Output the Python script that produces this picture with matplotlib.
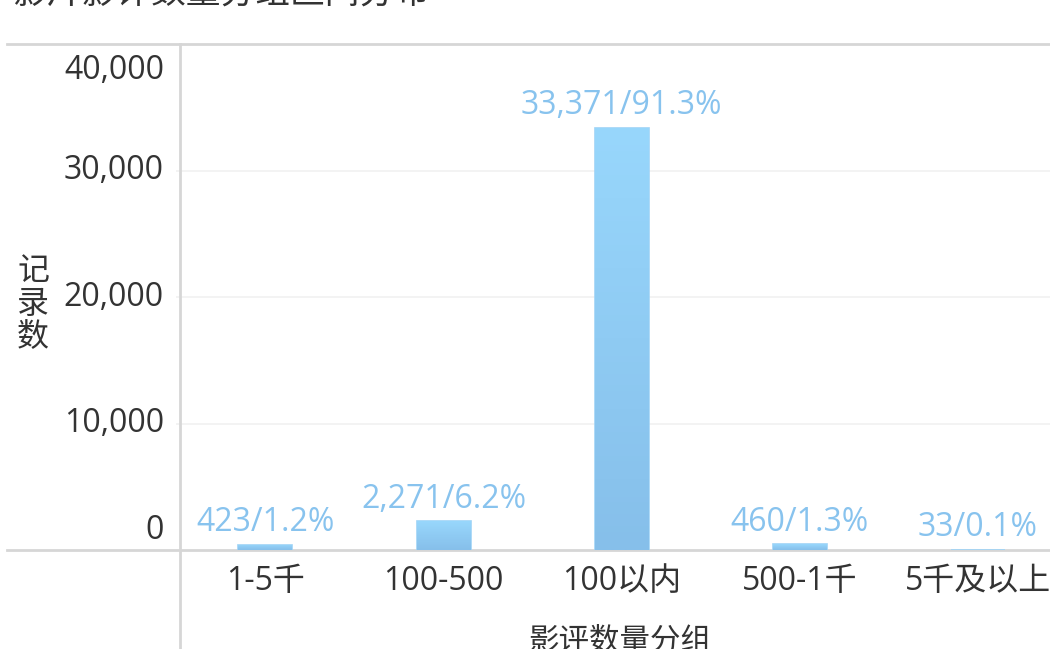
import numpy as np
import matplotlib
matplotlib.use('Agg')
import matplotlib.pyplot as plt
from matplotlib.lines import Line2D
from matplotlib.transforms import blended_transform_factory

plt.rcParams['font.family'] = ['Open Sans', 'Noto Sans CJK SC', 'DejaVu Sans']

groups = ['1-5千', '100-500', '100以内', '500-1千', '5千及以上']
counts = [423, 2271, 33371, 460, 33]
yticks = [0, 10000, 20000, 30000, 40000]

title = '影片影评数量分组区间分布'
xlabel = '影评数量分组'
ylabel = '记\n录\n数'

W, H = 1050, 649
fig = plt.figure(figsize=(W / 100, H / 100), dpi=100)
# plot area in pixels: left 176, right 1067 (runs off the canvas), zero line 550, top 44
ax = fig.add_axes([176.4 / W, (H - 550) / H, 890.6 / W, 506 / H])
ax.set_xlim(-0.5, len(groups) - 0.5)
ax.set_ylim(0, 40000)
for s in ax.spines.values():
    s.set_visible(False)
ax.tick_params(length=0, labelleft=False, labelbottom=False)

total = sum(counts)
pcts = [c / total * 100 for c in counts]

# light grid
for v in yticks[1:-1]:
    ax.axhline(v, color='#f1f1f1', lw=1.2, zorder=0)

# border lines at 0 and 40,000 run out to the left edge
gline = '#d6d6d6'
for v in (0, 40000):
    ax.plot([-0.19, 1.0], [v, v], color=gline, lw=2,
            transform=blended_transform_factory(ax.transAxes, ax.transData),
            clip_on=False, zorder=1)
fig.add_artist(Line2D([180 / W, 180 / W], [0, (H - 44) / H], color=gline, lw=2))

# bars with a soft vertical gradient
bw = 0.303
grad = np.linspace(0, 1, 256).reshape(-1, 1)
top_c = np.array([152, 215, 252]) / 255
bot_c = np.array([134, 191, 234]) / 255
img = top_c * (1 - grad[..., None]) + bot_c * grad[..., None]
bars = ax.bar(range(len(groups)), counts, width=bw, color='#92cdf4',
              edgecolor='#9fd3f6', lw=1.2, zorder=2)
for b in bars:
    x0, y0 = b.get_x(), b.get_y()
    im = ax.imshow(img, extent=(x0, x0 + b.get_width(), y0, y0 + b.get_height()),
                   aspect='auto', zorder=2.1, interpolation='bilinear')
    im.set_clip_path(b)

lab_c = '#88c3ee'
for i, (c, p) in enumerate(zip(counts, pcts)):
    ax.annotate(f'{c:,}/{p:.1f}%', (i, c), xytext=(0, 4), textcoords='offset points',
                ha='center', va='bottom', fontsize=23, color=lab_c, zorder=3)

# axis tick labels
tc = '#333333'
ytr = blended_transform_factory(ax.transAxes, ax.transData)
yoff = {0: 14, 40000: -19}
for v in yticks:
    ax.annotate(f'{v:,}', (0, v), xycoords=ytr, xytext=(-9, yoff.get(v, 0)),
                textcoords='offset points', ha='right', va='center',
                fontsize=23, color=tc, annotation_clip=False)
xtr = blended_transform_factory(ax.transData, ax.transAxes)
for i, g in enumerate(groups):
    ax.annotate(g, (i, 0), xycoords=xtr, xytext=(0, -23), textcoords='offset points',
                ha='center', va='center', fontsize=23, color=tc, annotation_clip=False)

fig.text(620 / W, 1 - 642 / H, xlabel, ha='center', va='center', fontsize=22, color=tc)
fig.text(33 / W, 1 - 305 / H, ylabel, ha='center', va='center', fontsize=23,
         color=tc, linespacing=1.0)
fig.text(12 / W, 1 + 6 / H, title, ha='left', va='center', fontsize=25, color='#333333')

fig.savefig('out.png', dpi=100)
